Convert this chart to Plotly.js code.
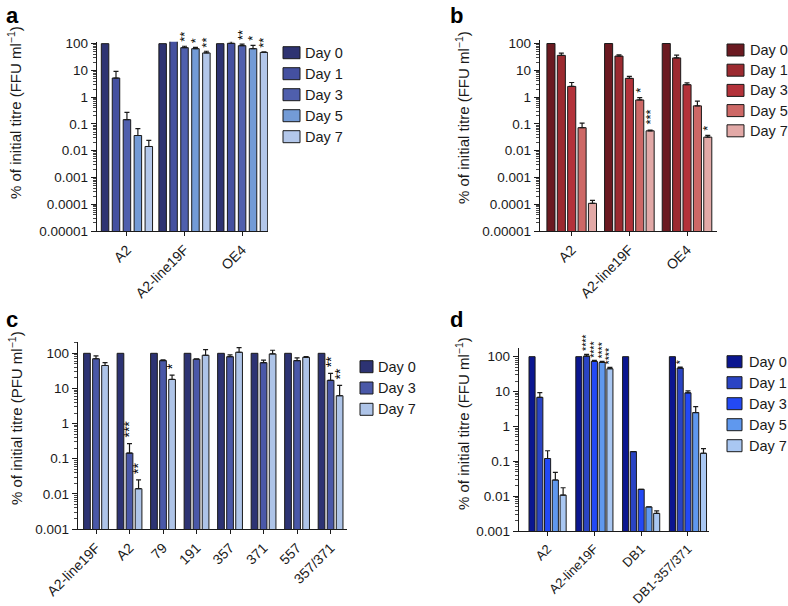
<!DOCTYPE html>
<html>
<head>
<meta charset="utf-8">
<script src="https://cdn.plot.ly/plotly-3.0.1.min.js"></script>
<style>html,body{margin:0;padding:0;background:#fff;}#chart{width:788px;height:606px;}</style>
</head>
<body>
<div id="chart"></div>
<script>
const W = 788, H = 606;
const FONT = '"Liberation Sans", Arial, Helvetica, sans-serif';
const INK = '#1a1a1a';

// ---------- Panel a ----------
const aCats = ['A2', 'A2-line19F', 'OE4'];
const aNames = ['Day 0', 'Day 1', 'Day 3', 'Day 5', 'Day 7'];
const aDay0 = [100, 100, 100];
const aDay1 = [5.2, 132, 103];
const aDay3 = [0.145, 71, 84];
const aDay5 = [0.037, 65, 65];
const aDay7 = [0.0144, 45, 47];
const aErr0 = [null, null, null];
const aErr1 = [4.1, 8, 27];
const aErr3 = [0.125, 9, 13];
const aErr5 = [0.03, 8, 22];
const aErr7 = [0.01, 7, 3];
const aStar0 = ['', '', ''];
const aStar1 = ['', '**', '*'];
const aStar3 = ['', '**', '**'];
const aStar5 = ['', '*', '*'];
const aStar7 = ['', '**', '**'];
const aColors = ['#2e3372', '#4450a0', '#4f5fad', '#739bd6', '#b3c7ea'];

// ---------- Panel b ----------
const bCats = ['A2', 'A2-line19F', 'OE4'];
const bNames = ['Day 0', 'Day 1', 'Day 3', 'Day 5', 'Day 7'];
const bDay0 = [100, 100, 100];
const bDay1 = [36, 34, 29];
const bDay3 = [2.5, 5.0, 2.9];
const bDay5 = [0.072, 0.78, 0.47];
const bDay7 = [0.000108, 0.055, 0.032];
const bErr0 = [null, null, null];
const bErr1 = [8, 4, 8];
const bErr3 = [1.0, 0.9, 0.5];
const bErr5 = [0.035, 0.18, 0.24];
const bErr7 = [0.00003, 0.004, 0.005];
const bStar0 = ['', '', ''];
const bStar1 = ['', '', ''];
const bStar3 = ['', '', ''];
const bStar5 = ['', '*', ''];
const bStar7 = ['', '***', '*'];
const bColors = ['#6b1a21', '#9c2a30', '#b3323a', '#cd6866', '#e2a9a7'];

// ---------- Panel c ----------
const cCats = ['A2-line19F', 'A2', '79', '191', '357', '371', '557', '357/371'];
const cNames = ['Day 0', 'Day 3', 'Day 7'];
const cDay0 = [100, 100, 100, 100, 100, 100, 100, 100];
const cDay3 = [70, 0.145, 62, 68, 80, 54, 62, 17];
const cDay7 = [45, 0.014, 18, 88, 107, 96, 77, 6.2];
const cErr0 = [null, null, null, null, null, null, null, null];
const cErr3 = [14, 0.125, 3, 2, 10, 10, 12, 10];
const cErr7 = [9, 0.011, 6, 39, 38, 26, 3, 6];
const cStar0 = ['', '', '', '', '', '', '', ''];
const cStar3 = ['', '***', '', '', '', '', '', '**'];
const cStar7 = ['', '**', '*', '', '', '', '', '**'];
const cColors = ['#2d3373', '#4a58a8', '#aec4e8'];

// ---------- Panel d ----------
const dCats = ['A2', 'A2-line19F', 'DB1', 'DB1-357/371'];
const dNames = ['Day 0', 'Day 1', 'Day 3', 'Day 5', 'Day 7'];
const dDay0 = [100, 100, 100, 100];
const dDay1 = [6.8, 104, 0.19, 47];
const dDay3 = [0.12, 73, 0.0157, 9.2];
const dDay5 = [0.029, 68, 0.0049, 2.5];
const dDay7 = [0.0107, 45, 0.0032, 0.17];
const dErr0 = [null, null, null, null];
const dErr1 = [2.5, 13, null, 3];
const dErr3 = [0.08, 5, null, 1.3];
const dErr5 = [0.019, 5, null, 1.2];
const dErr7 = [0.0067, 4, 0.0006, 0.06];
const dStar0 = ['', '', '', ''];
const dStar1 = ['', '****', '', '*'];
const dStar3 = ['', '****', '', ''];
const dStar5 = ['', '****', '', ''];
const dStar7 = ['', '****', '', ''];
const dColors = ['#0b1690', '#2a44c4', '#2349f5', '#5f98ee', '#a9c7f2'];

// ---------- axis tick labels ----------
const ticks5Vals = [1e-5, 1e-4, 1e-3, 1e-2, 1e-1, 1, 10, 100];
const ticks5Text = ['0.00001', '0.0001', '0.001', '0.01', '0.1', '1', '10', '100'];
const ticks3Vals = [1e-3, 1e-2, 1e-1, 1, 10, 100];
const ticks3Text = ['0.001', '0.01', '0.1', '1', '10', '100'];

const titleFFU = '% of initial titre (FFU ml<sup>\u22121</sup>)';
const titlePFU = '% of initial titre (PFU ml<sup>\u22121</sup>)';

// ---------- layout geometry (pixels) ----------
const panels = [
  { id: '', letter: 'a', cats: aCats, names: aNames,
    vals: [aDay0, aDay1, aDay3, aDay5, aDay7], errs: [aErr0, aErr1, aErr3, aErr5, aErr7],
    stars: [aStar0, aStar1, aStar3, aStar5, aStar7], colors: aColors,
    x0: 97, x1: 268, yTop: 41.8, yBot: 231, xr: [-0.52, 2.45], yr: [-5, 2.07],
    bw: 0.13, bp: 0.19, tv: ticks5Vals, tt: ticks5Text, title: titleFFU, xFont: 14,
    titlePos: [15, 113], letterPos: [4, 16],
    leg: { sx0: 283, sx1: 300, tx: 303, y0: 52.7, dy: 21 }, starSize: 13, starLift: 3 },
  { id: '2', letter: 'b', cats: bCats, names: bNames,
    vals: [bDay0, bDay1, bDay3, bDay5, bDay7], errs: [bErr0, bErr1, bErr3, bErr5, bErr7],
    stars: [bStar0, bStar1, bStar3, bStar5, bStar7], colors: bColors,
    x0: 540, x1: 717, yTop: 39.5, yBot: 231, xr: [-0.55, 2.52], yr: [-5, 2.15],
    bw: 0.14, bp: 0.18, tv: ticks5Vals, tt: ticks5Text, title: titleFFU, xFont: 14,
    titlePos: [462, 118], letterPos: [448, 16],
    leg: { sx0: 727, sx1: 744, tx: 748, y0: 50, dy: 20.2 }, starSize: 13, starLift: 4 },
  { id: '3', letter: 'c', cats: cCats, names: cNames,
    vals: [cDay0, cDay3, cDay7], errs: [cErr0, cErr3, cErr7],
    stars: [cStar0, cStar3, cStar7], colors: cColors,
    x0: 78, x1: 347, yTop: 341.7, yBot: 529, xr: [-0.537, 7.49], yr: [-3, 2.33],
    bw: 0.2, bp: 0.27, tv: ticks3Vals, tt: ticks3Text, title: titlePFU, xFont: 14,
    titlePos: [15, 418], letterPos: [4, 319],
    leg: { sx0: 360, sx1: 373, tx: 376, y0: 366.7, dy: 21.3 }, starSize: 14, starLift: 5 },
  { id: '4', letter: 'd', cats: dCats, names: dNames,
    vals: [dDay0, dDay1, dDay3, dDay5, dDay7], errs: [dErr0, dErr1, dErr3, dErr5, dErr7],
    stars: [dStar0, dStar1, dStar3, dStar5, dStar7], colors: dColors,
    x0: 519, x1: 709, yTop: 348.3, yBot: 531, xr: [-0.611, 3.45], yr: [-3, 2.24],
    bw: 0.13, bp: 0.166, tv: ticks3Vals, tt: ticks3Text, title: titleFFU, xFont: 13,
    titlePos: [462, 424], letterPos: [448, 320],
    leg: { sx0: 727, sx1: 742, tx: 747, y0: 361.7, dy: 21 }, starSize: 10.5, starLift: 2 }
];

const fx = px => px / W;
const fy = py => 1 - py / H;

function minorTicks(lo, hi) {
  const out = [];
  for (let e = Math.floor(lo); e <= Math.ceil(hi); e++) {
    for (let m = 2; m <= 9; m++) out.push(m * Math.pow(10, e));
  }
  return out;
}

const data = [];
const annotations = [];
const shapes = [];
const layout = {
  width: W, height: H,
  margin: { l: 0, r: 0, t: 0, b: 0 },
  paper_bgcolor: '#fff', plot_bgcolor: '#fff',
  font: { family: FONT, color: INK, size: 13 },
  barmode: 'overlay',
  showlegend: false
};

panels.forEach(p => {
  const xa = 'x' + p.id, ya = 'y' + p.id;
  const n = p.vals.length;
  const start = -((n - 1) * p.bp + p.bw) / 2;
  const xIdx = p.cats.map((c, i) => i);
  p.vals.forEach((vals, i) => {
    const errs = p.errs[i];
    const hasErr = errs.some(e => e !== null);
    const off = start + i * p.bp;
    data.push({
      type: 'bar', x: xIdx, y: vals, name: p.names[i],
      xaxis: xa, yaxis: ya,
      width: p.bw, offset: off,
      marker: { color: p.colors[i], line: { color: INK, width: 1 } },
      error_y: {
        type: 'data', visible: hasErr, symmetric: false,
        array: errs, arrayminus: errs.map(() => 0),
        color: INK, thickness: 1.2, width: 2.5
      },
      hoverinfo: 'skip'
    });
    // significance stars, stacked vertically (rotated text run)
    p.stars[i].forEach((s, j) => {
      if (!s) return;
      const top = vals[j] + (errs[j] || 0);
      annotations.push({
        xref: xa, yref: ya, x: xIdx[j] + off + p.bw / 2, y: Math.log10(top),
        text: s, showarrow: false, textangle: -90, opacity: 0.99,
        xanchor: 'center', yanchor: 'bottom', borderpad: 0,
        xshift: 0, yshift: p.starLift,
        font: { size: p.starSize, color: '#000', family: FONT }
      });
    });
    // legend entry
    const ly = p.leg.y0 + i * p.leg.dy;
    shapes.push({
      type: 'rect', xref: 'paper', yref: 'paper',
      x0: fx(p.leg.sx0), x1: fx(p.leg.sx1), y0: fy(ly - 6), y1: fy(ly + 6),
      fillcolor: p.colors[i], line: { color: INK, width: 1 }
    });
    annotations.push({
      xref: 'paper', yref: 'paper', x: fx(p.leg.tx), y: fy(ly),
      xanchor: 'left', yanchor: 'middle', showarrow: false,
      text: p.names[i], font: { size: 14.5, color: INK, family: FONT }
    });
  });

  layout['xaxis' + p.id] = {
    domain: [fx(p.x0), fx(p.x1)], anchor: ya, type: 'linear',
    range: p.xr, showline: true, linecolor: INK, linewidth: 1.3,
    tickmode: 'array', tickvals: xIdx, ticktext: p.cats,
    ticks: 'outside', ticklen: 4, tickwidth: 1, tickcolor: INK,
    tickangle: -45, tickfont: { size: p.xFont, color: INK, family: FONT },
    showgrid: false, zeroline: false, fixedrange: true
  };
  layout['yaxis' + p.id] = {
    domain: [fy(p.yBot), fy(p.yTop)], anchor: xa, type: 'log',
    range: p.yr, showline: true, linecolor: INK, linewidth: 1.3,
    tickmode: 'array', tickvals: p.tv, ticktext: p.tt,
    ticks: 'outside', ticklen: 5, tickwidth: 1, tickcolor: INK,
    minor: { tickmode: 'array', tickvals: minorTicks(p.yr[0], p.yr[1]),
             ticks: 'outside', ticklen: 3, tickwidth: 0.8, tickcolor: INK, showgrid: false },
    tickfont: { size: 13.5, color: INK, family: FONT },
    showgrid: false, zeroline: false, fixedrange: true
  };
  annotations.push({
    xref: 'paper', yref: 'paper', x: fx(p.letterPos[0]), y: fy(p.letterPos[1]),
    xanchor: 'left', yanchor: 'middle', showarrow: false,
    text: '<b>' + p.letter + '</b>', font: { size: 22, color: '#000', family: FONT }
  });
  annotations.push({
    xref: 'paper', yref: 'paper', x: fx(p.titlePos[0]), y: fy(p.titlePos[1]),
    xanchor: 'center', yanchor: 'middle', showarrow: false, textangle: -90,
    text: p.title, font: { size: 15, color: INK, family: FONT }
  });
});

layout.annotations = annotations;
layout.shapes = shapes;

Plotly.newPlot('chart', data, layout, { displayModeBar: false, staticPlot: true });
</script>
</body>
</html>
